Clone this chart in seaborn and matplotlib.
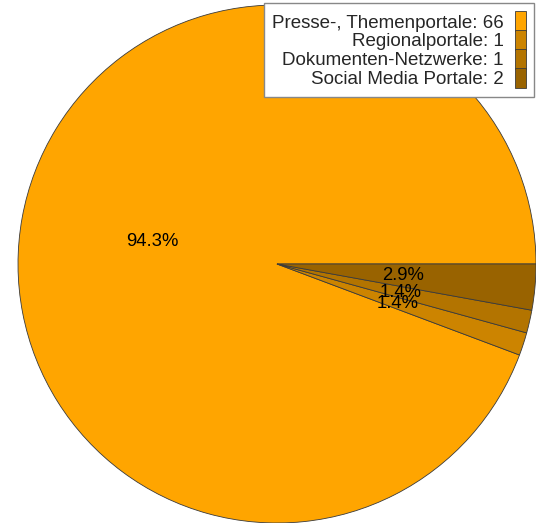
import matplotlib
matplotlib.use("Agg")
import matplotlib.pyplot as plt
import seaborn as sns

# Data
categories = ["Presse-, Themenportale", "Regionalportale", "Dokumenten-Netzwerke", "Social Media Portale"]
counts = [66, 1, 1, 2]
colours = ["#FFA500", "#CC8400", "#B37400", "#996300"]

sns.set_theme(style="white")
plt.rcParams['font.family'] = ['Liberation Sans', 'DejaVu Sans']

fig = plt.figure(figsize=(5.36, 5.23), dpi=100)
ax = fig.add_axes([18 / 536, 0 / 523, 518 / 536, 518 / 523])

wedges, texts, autotexts = ax.pie(
    counts,
    colors=colours,
    autopct='%1.1f%%',
    pctdistance=0.49,
    startangle=0,
    counterclock=True,
    wedgeprops=dict(edgecolor='#3a3a3a', linewidth=0.6),
    textprops=dict(fontsize=13.3, color='black'),
)
ax.set_xlim(-1, 1)
ax.set_ylim(-1, 1)
ax.set_aspect('equal')

labels = [f"{c}: {n}" for c, n in zip(categories, counts)]
leg = fig.legend(
    wedges, labels,
    loc='upper right', bbox_to_anchor=(534 / 536, 1 - 3 / 523),
    markerfirst=False, fontsize=13.5,
    handlelength=0.55, handleheight=1.23, handletextpad=0.6,
    labelspacing=-0.065, borderpad=0.45, borderaxespad=0.0,
    fancybox=False, framealpha=1, edgecolor='#888888',
)
for h in leg.legend_handles:
    h.set_linewidth(0.6)

fig.savefig('out.png', dpi=100)
plt.close(fig)
